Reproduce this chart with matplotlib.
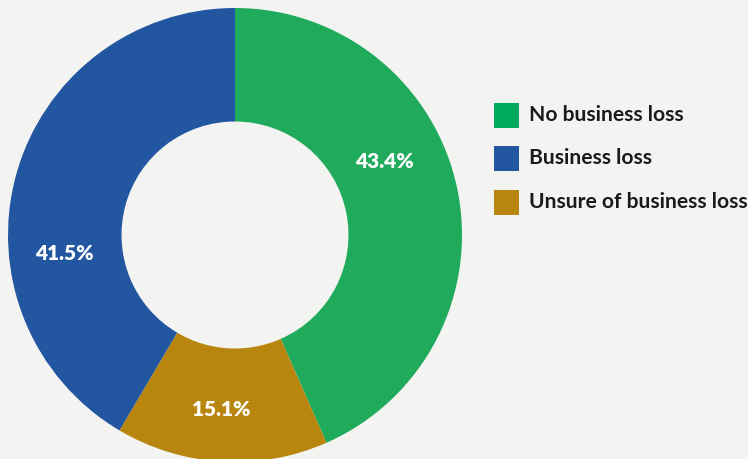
import matplotlib
matplotlib.use("Agg")
import matplotlib.pyplot as plt
from matplotlib.patches import Rectangle

# Survey responses on business loss
categories = ["No business loss", "Business loss", "Unsure of business loss"]
shares = [43.4, 41.5, 15.1]
colors = ["#1faa5c", "#2356a0", "#b8860e"]
legend_colors = ["#00a95c", "#2356a0", "#b8860e"]

# drawing order around the ring (clockwise from 12 o'clock)
ring_order = [0, 2, 1]

W, H = 748, 459
fig = plt.figure(figsize=(W / 100, H / 100), dpi=100)
fig.patch.set_facecolor("#f3f3f1")
ax = fig.add_axes([0, 0, 1, 1])
ax.set_xlim(0, W)
ax.set_ylim(0, H)
ax.set_aspect("equal")
ax.axis("off")

cx, cy, R = 235, H - 235, 227
vals = [shares[i] for i in ring_order]
cols = [colors[i] for i in ring_order]
wedges, _ = ax.pie(vals, colors=cols, startangle=90, counterclock=False,
                   center=(cx, cy), radius=R,
                   wedgeprops=dict(width=R * 0.5, linewidth=0))
ax.set_xlim(0, W)
ax.set_ylim(0, H)

font = "Lato"
# value labels (pixel positions from top-left)
label_pos = {0: (384, 162), 1: (64, 253), 2: (221, 410)}
for i, (x, y) in label_pos.items():
    ax.text(x, H - y, f"{shares[i]:.1f}%", color="white", fontsize=15,
            fontweight="heavy", family=font, ha="center", va="center")

# legend
for k, (name, c) in enumerate(zip(categories, legend_colors)):
    y = 115 + k * 43.5
    ax.add_patch(Rectangle((494, H - y - 12.5), 25, 25, color=c, lw=0))
    ax.text(529, H - y, name, color="#1a1a1a", fontsize=15.1,
            fontweight="bold", family=font, ha="left", va="center")

fig.savefig("out.png", dpi=100, facecolor=fig.get_facecolor())
